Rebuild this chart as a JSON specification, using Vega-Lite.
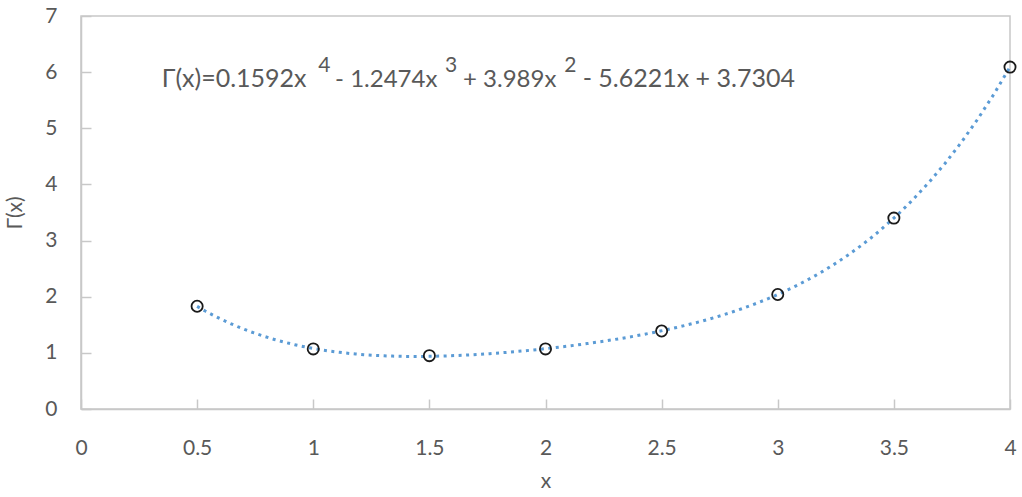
{
  "$schema": "https://vega.github.io/schema/vega-lite/v6.json",
  "width": 929,
  "height": 393,
  "autosize": {"type": "none"},
  "padding": {"left": 81, "top": 16, "right": 12, "bottom": 88},
  "background": "white",
  "config": {
    "view": {"stroke": "#C8C8C8", "strokeWidth": 1.5},
    "font": "Lato",
    "axis": {
      "grid": false,
      "domainColor": "#C8C8C8",
      "domainWidth": 1.5,
      "tickColor": "#C8C8C8",
      "tickWidth": 1.5,
      "labelColor": "#595959",
      "labelFont": "Lato",
      "labelFontSize": 21,
      "titleColor": "#595959",
      "titleFont": "Lato",
      "titleFontSize": 21,
      "titleFontWeight": "normal"
    },
    "text": {"font": "Lato", "color": "#595959", "align": "left", "baseline": "alphabetic"}
  },
  "data": {
    "values": [
      {"x": 0.5, "g": 1.83},
      {"x": 1.0, "g": 1.07},
      {"x": 1.5, "g": 0.95},
      {"x": 2.0, "g": 1.07},
      {"x": 2.5, "g": 1.39},
      {"x": 3.0, "g": 2.04},
      {"x": 3.5, "g": 3.40},
      {"x": 4.0, "g": 6.09}
    ]
  },
  "layer": [
    {
      "transform": [
        {"regression": "g", "on": "x", "method": "poly", "order": 4, "extent": [0.5, 4]}
      ],
      "mark": {"type": "line", "color": "#5B9BD5", "strokeWidth": 3, "strokeDash": [3, 4.5], "strokeCap": "butt"},
      "encoding": {
        "x": {"field": "x", "type": "quantitative"},
        "y": {"field": "g", "type": "quantitative"}
      }
    },
    {
      "mark": {"type": "point", "shape": "circle", "filled": false, "fill": "white", "fillOpacity": 0, "stroke": "#1a1a1a", "strokeWidth": 1.8, "size": 125, "opacity": 1},
      "encoding": {
        "x": {
          "field": "x", "type": "quantitative",
          "scale": {"domain": [0, 4], "nice": false, "zero": false},
          "axis": {"values": [0, 0.5, 1, 1.5, 2, 2.5, 3, 3.5, 4], "format": "~g", "tickSize": -10, "labelPadding": 38, "title": "x", "titlePadding": 12, "labelFlush": false}
        },
        "y": {
          "field": "g", "type": "quantitative",
          "scale": {"domain": [0, 7], "nice": false},
          "axis": {"values": [0, 1, 2, 3, 4, 5, 6, 7], "format": "~g", "tickSize": -10, "labelPadding": 34, "title": "Γ(x)", "titlePadding": 19, "labelFlush": false}
        }
      }
    },
    {
      "data": {"values": [{}]},
      "mark": {"type": "text", "fontSize": 25},
      "encoding": {"x": {"datum": 0.3475}, "y": {"datum": 5.736}, "text": {"value": "Γ(x)=0.1592x"}}
    },
    {
      "data": {"values": [{}]},
      "mark": {"type": "text", "fontSize": 21},
      "encoding": {"x": {"datum": 1.022}, "y": {"datum": 6.003}, "text": {"value": "4"}}
    },
    {
      "data": {"values": [{}]},
      "mark": {"type": "text", "fontSize": 24},
      "encoding": {"x": {"datum": 1.094}, "y": {"datum": 5.736}, "text": {"value": "- 1.2474x"}}
    },
    {
      "data": {"values": [{}]},
      "mark": {"type": "text", "fontSize": 21},
      "encoding": {"x": {"datum": 1.567}, "y": {"datum": 6.003}, "text": {"value": "3"}}
    },
    {
      "data": {"values": [{}]},
      "mark": {"type": "text", "fontSize": 24},
      "encoding": {"x": {"datum": 1.645}, "y": {"datum": 5.736}, "text": {"value": "+ 3.989x"}}
    },
    {
      "data": {"values": [{}]},
      "mark": {"type": "text", "fontSize": 21},
      "encoding": {"x": {"datum": 2.081}, "y": {"datum": 6.003}, "text": {"value": "2"}}
    },
    {
      "data": {"values": [{}]},
      "mark": {"type": "text", "fontSize": 25},
      "encoding": {"x": {"datum": 2.16}, "y": {"datum": 5.736}, "text": {"value": "- 5.6221x + 3.7304"}}
    }
  ]
}
